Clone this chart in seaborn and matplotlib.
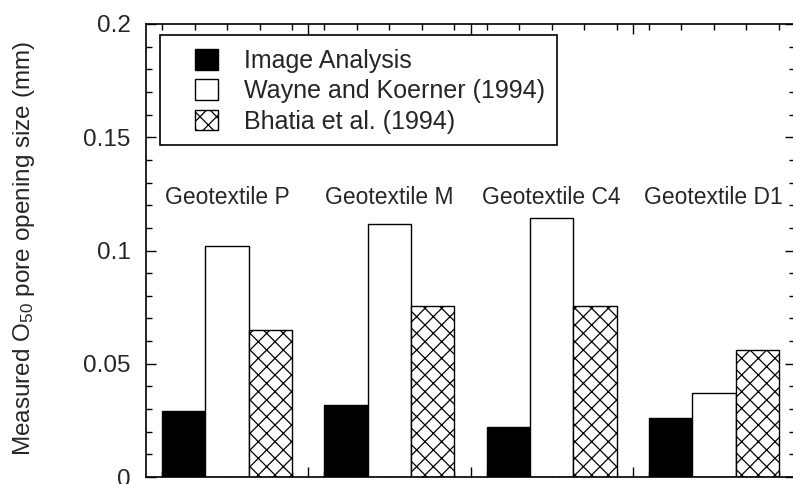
import numpy as np
import pandas as pd
import matplotlib
matplotlib.use("Agg")
import matplotlib.pyplot as plt
import seaborn as sns
from matplotlib.patches import Patch, Rectangle
from matplotlib.ticker import MultipleLocator

# ---- data ----
geotextiles = ["Geotextile P", "Geotextile M", "Geotextile C4", "Geotextile D1"]
methods = ["Image Analysis", "Wayne and Koerner (1994)", "Bhatia et al. (1994)"]
image_analysis = [0.029, 0.032, 0.022, 0.026]
wayne_koerner = [0.102, 0.1115, 0.1145, 0.037]
bhatia = [0.065, 0.0755, 0.0755, 0.056]
yticks = [0, 0.05, 0.1, 0.15, 0.2]
ytick_labels = ["0", "0.05", "0.1", "0.15", "0.2"]

df = pd.DataFrame({
    "geotextile": geotextiles * 3,
    "method": [methods[0]] * 4 + [methods[1]] * 4 + [methods[2]] * 4,
    "value": image_analysis + wayne_koerner + bhatia,
})

sns.set_style("ticks")
plt.rcParams["font.family"] = ["Liberation Sans", "DejaVu Sans"]
plt.rcParams["mathtext.fontset"] = "custom"
plt.rcParams["mathtext.rm"] = "Liberation Sans"
plt.rcParams["mathtext.it"] = "Liberation Sans:italic"
plt.rcParams["hatch.linewidth"] = 0.9
plt.rcParams["hatch.color"] = "#333333"

W, H = 793, 484
fig = plt.figure(figsize=(W / 100, H / 100), dpi=100)
ax = fig.add_axes([146 / W, (H - 477) / H, 649 / W, 453 / H])

fills = ["black", "white", "white"]
hatches = ["", "", "xx"]
sns.barplot(data=df, x="geotextile", y="value", hue="method",
            order=geotextiles, hue_order=methods,
            palette=fills, edgecolor="black", linewidth=1.0,
            saturation=1, width=0.8, ax=ax, legend=False)
for cont, h in zip(ax.containers, hatches):
    for bar in cont:
        bar.set_hatch(h)
        bar.set_edgecolor("black")

ax.set_xlim(-0.5, 3.5)
ax.set_ylim(0, 0.2)
ax.set_yticks(yticks)
ax.set_yticklabels(ytick_labels)
ax.yaxis.set_minor_locator(MultipleLocator(0.01))
ax.set_xticks([0.5, 1.5, 2.5])
ax.set_xticklabels([])
ax.xaxis.set_minor_locator(MultipleLocator(0.2))
ax.set_xlabel("")

for s in ax.spines.values():
    s.set_visible(True)
    s.set_linewidth(1.2)
    s.set_color("black")
ax.tick_params(which="both", direction="in", top=True, right=True,
               color="black", width=1.0)
ax.tick_params(which="major", length=7, labelsize=17.5, pad=11)
ax.tick_params(which="minor", length=4)

ax.set_ylabel("Measured O$_{50}$ pore opening size (mm)", fontsize=17.5)
ax.yaxis.label.set_va("center")
ax.yaxis.set_label_coords((24 - 146) / 649, 0.505)

for i, name in enumerate(geotextiles):
    ax.text(i, 0.1235, name, ha="center", va="center", fontsize=16.5)

# legend
handles = [Patch(facecolor=f, edgecolor="black", hatch=h, linewidth=1.0)
           for f, h in zip(fills, hatches)]
x0 = (195 - 146) / 649
y0 = (477 - 49) / 453
leg = ax.legend(handles, methods, loc="upper left", bbox_to_anchor=(x0, y0),
                bbox_transform=ax.transAxes, frameon=False, borderpad=0,
                borderaxespad=0, fontsize=18, handlelength=0.92,
                handleheight=0.88, handletextpad=1.05, labelspacing=0.25)
ax.add_patch(Rectangle(((160 - 146) / 649, (477 - 145) / 453),
                       (557 - 160) / 649, (145 - 35) / 453,
                       transform=ax.transAxes, fill=False,
                       edgecolor="black", linewidth=1.2, zorder=5))

fig.savefig("out.png", dpi=100)
